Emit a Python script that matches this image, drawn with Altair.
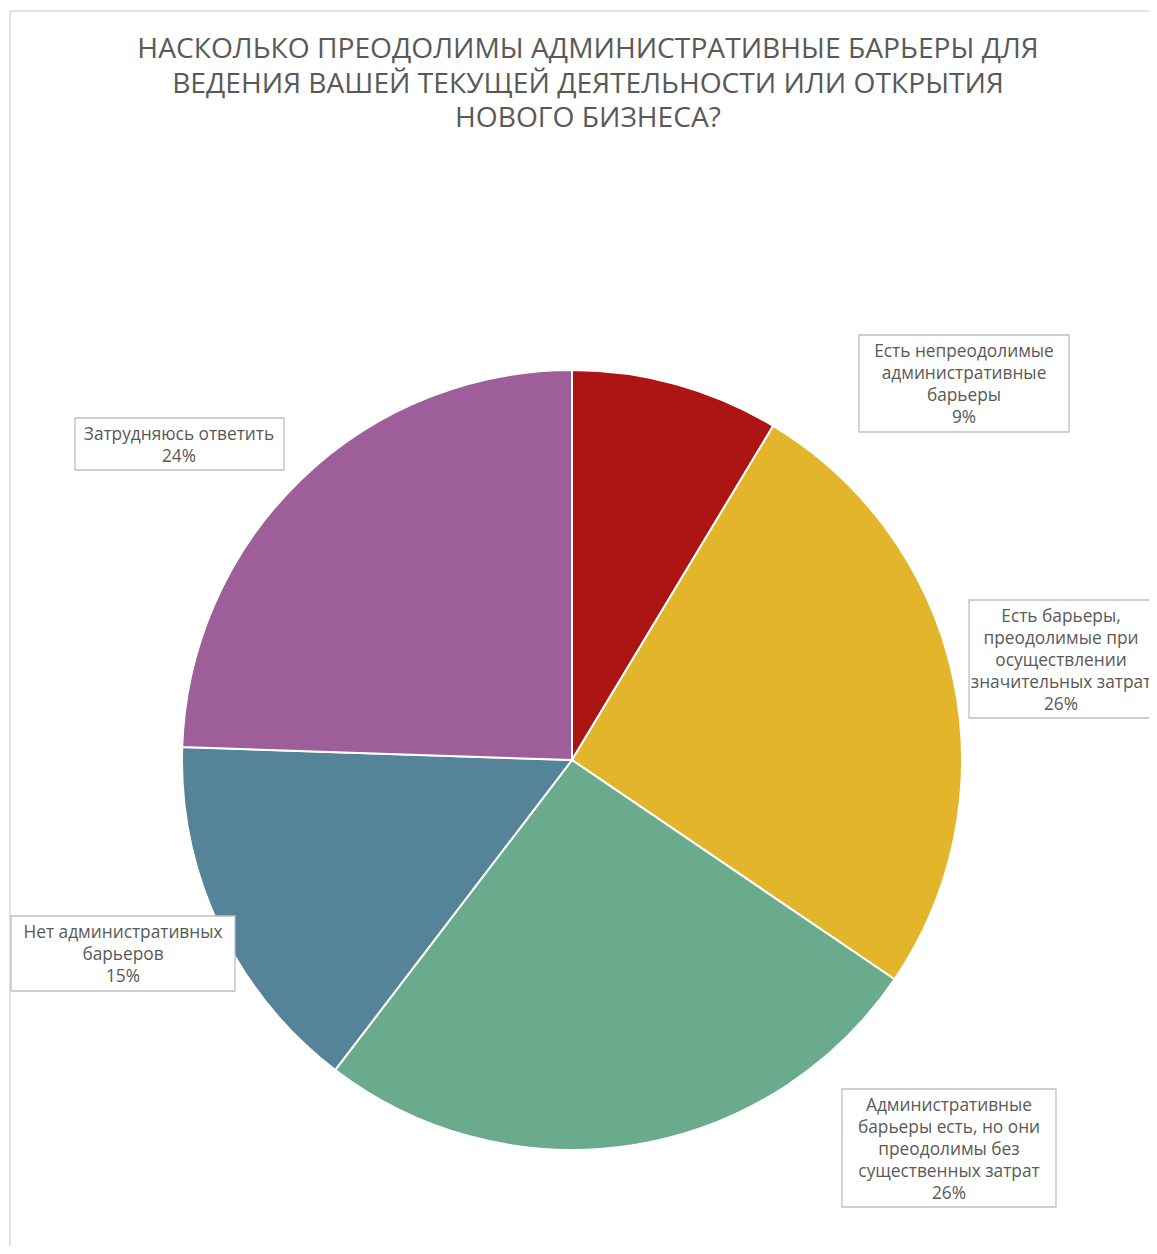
import altair as alt
import pandas as pd

# ---- data ----
categories = [
    "Есть непреодолимые административные барьеры",
    "Есть барьеры, преодолимые при осуществлении значительных затрат",
    "Административные барьеры есть, но они преодолимы без существенных затрат",
    "Нет административных барьеров",
    "Затрудняюсь ответить",
]
values = [8.6, 25.8, 25.8, 15.1, 24.4]
colors = ["#AD1515", "#E2B52A", "#6AAB8E", "#558499", "#9E5E99"]
# label lines as wrapped in the chart
label_lines = [
    ["Есть непреодолимые", "административные", "барьеры"],
    ["Есть барьеры,", "преодолимые при", "осуществлении", "значительных затрат"],
    ["Административные", "барьеры есть, но они", "преодолимы без", "существенных затрат"],
    ["Нет административных", "барьеров"],
    ["Затрудняюсь ответить"],
]
title_lines = [
    "НАСКОЛЬКО ПРЕОДОЛИМЫ АДМИНИСТРАТИВНЫЕ БАРЬЕРЫ ДЛЯ",
    "ВЕДЕНИЯ ВАШЕЙ ТЕКУЩЕЙ ДЕЯТЕЛЬНОСТИ ИЛИ ОТКРЫТИЯ",
    "НОВОГО БИЗНЕСА?",
]

# ---- layout (pixel positions of label boxes, chart coords) ----
box_x1 = [851, 961, 834, 3, 67]
box_x2 = [1061, 1170, 1048, 227, 276]
box_y1 = [327, 592, 1081, 908, 410]
box_y2 = [424, 710, 1199, 983, 462]
text_x = [956, 1053, 941, 115, 171]

W, H = 1141, 1238
FONT = "Open Sans"
GREY = "#595959"

pie_df = pd.DataFrame({
    "category": categories,
    "value": values,
    "order": list(range(len(categories))),
})

lab_df = pd.DataFrame({
    "category": categories,
    "text": [lines + [f"{round(v)}%"] for lines, v in zip(label_lines, values)],
    "tx": text_x,
    "ty": [b + 17 for b in box_y1],
    "bx1": box_x1, "bx2": box_x2, "by1": box_y1, "by2": box_y2,
})

frame = alt.Chart(pd.DataFrame({"a": [0]})).mark_rect(
    fillOpacity=0, stroke="#d9d9d9", strokeWidth=1.5
).encode(
    x=alt.value(2), x2=alt.value(1200), y=alt.value(3), y2=alt.value(1300)
)

pie = alt.Chart(pie_df).mark_arc(
    radius=390, stroke="white", strokeWidth=2
).encode(
    theta=alt.Theta("value:Q", stack=True),
    color=alt.Color("category:N", scale=alt.Scale(domain=categories, range=colors), legend=None),
    order=alt.Order("order:Q"),
    x=alt.value(564),
    y=alt.value(752),
)

boxes = alt.Chart(lab_df).mark_rect(
    fill="white", stroke="#bfbfbf", strokeWidth=1.3
).encode(
    x=alt.X("bx1:Q", scale=None), x2="bx2:Q",
    y=alt.Y("by1:Q", scale=None), y2="by2:Q",
)

labels = alt.Chart(lab_df).mark_text(
    font=FONT, fontSize=17.3, color=GREY, lineHeight=22,
    align="center", baseline="middle", clip=True
).encode(
    x=alt.X("tx:Q", scale=None),
    y=alt.Y("ty:Q", scale=None),
    text="text",
)

title = alt.Chart(pd.DataFrame({"t": [title_lines]})).mark_text(
    font=FONT, fontSize=28.2, color=GREY, lineHeight=34.5,
    align="center", baseline="middle"
).encode(
    x=alt.value(580), y=alt.value(42), text="t"
)

chart = alt.layer(frame, pie, boxes, labels, title).properties(
    width=W, height=H, padding=0, autosize=alt.AutoSizeParams(type="none")
).configure_view(strokeWidth=0)

chart.save("out.html", embed_options={"renderer": "svg", "actions": False})
